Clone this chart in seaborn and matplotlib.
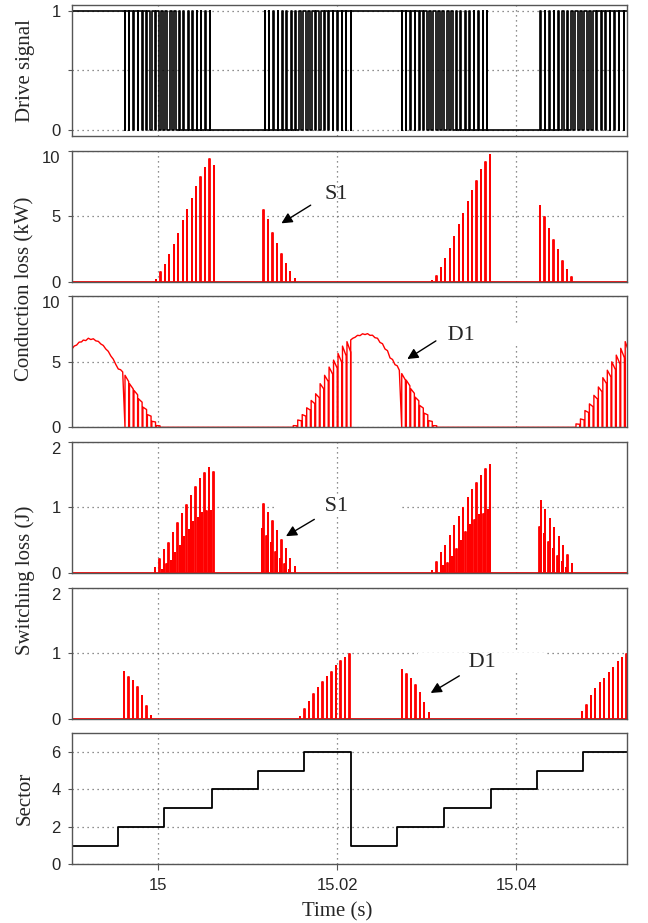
import numpy as np
import pandas as pd
import matplotlib
matplotlib.use('Agg')
import matplotlib.pyplot as plt
import seaborn as sns
from matplotlib import font_manager

# time window and switching period (s)
t_start, t_end = 14.99032, 15.0524
Ts = 0.0005

# ---- drive signal: constant segments and PWM bursts ----
drive_const = [(14.99032, 14.99625, 1), (15.00602, 15.01166, 0),
               (15.02150, 15.02720, 1), (15.03698, 15.04246, 0)]
drive_bursts = [(14.99625, 15.00602), (15.01166, 15.02150),
                (15.02720, 15.03698), (15.04246, 15.0525)]
duty_1 = [0.97, 0.93, 0.88, 0.82, 0.76, 0.69, 0.62, 0.56, 0.51, 0.47,
          0.43, 0.39, 0.34, 0.29, 0.24, 0.19, 0.14, 0.10, 0.06, 0.03]
duty_2 = [0.03, 0.06, 0.10, 0.14, 0.19, 0.24, 0.30, 0.36, 0.42, 0.48,
          0.53, 0.57, 0.62, 0.68, 0.74, 0.80, 0.86, 0.91, 0.95, 0.98]
duty_3 = [0.97, 0.92, 0.87, 0.81, 0.74, 0.67, 0.60, 0.54, 0.50, 0.46,
          0.42, 0.38, 0.33, 0.28, 0.23, 0.18, 0.13, 0.09, 0.05, 0.02]
duty_4 = [0.03, 0.07, 0.11, 0.16, 0.22, 0.28, 0.35, 0.42, 0.48, 0.52,
          0.56, 0.60, 0.65, 0.70, 0.76, 0.82, 0.87, 0.92, 0.95, 0.98]

# ---- conduction loss S1 (kW) ----
s1c_starts = [14.99971, 15.01173, 15.03055, 15.04265]
s1c_1 = [0.13, 0.7, 1.3, 2.0, 2.8, 3.6, 4.6, 5.5, 6.3, 7.2, 8.0, 8.7, 9.4, 8.8]
s1c_2 = [5.5, 4.7, 3.7, 2.9, 2.1, 1.35, 0.7, 0.2]
s1c_3 = [0.05, 0.45, 1.07, 1.7, 2.5, 3.4, 4.3, 5.2, 6.1, 6.9, 7.7, 8.5, 9.1, 9.7]
s1c_4 = [5.8, 4.9, 4.0, 3.2, 2.4, 1.6, 0.87, 0.33]

# ---- conduction loss D1 (kW) ----
d1_env_a_t = [14.99032, 14.99060, 14.99088, 14.99115, 14.99142, 14.99162,
              14.99190, 14.99218, 14.99246, 14.99274, 14.99302, 14.99330,
              14.99358, 14.99385, 14.99413, 14.99441, 14.99469, 14.99497,
              14.99525, 14.99553, 14.99578, 14.99602]
d1_env_a_v = [5.95, 6.20, 6.28, 6.50, 6.52, 6.66, 6.62, 6.80, 6.70, 6.76,
              6.60, 6.56, 6.36, 6.25, 5.98, 5.80, 5.45, 5.20, 4.80, 4.45,
              4.40, 4.23]
d1_env_b_t = [15.02150, 15.02174, 15.02198, 15.02226, 15.02254, 15.02282,
              15.02310, 15.02338, 15.02365, 15.02393, 15.02421, 15.02449,
              15.02477, 15.02505, 15.02533, 15.02561, 15.02589, 15.02617,
              15.02645, 15.02669, 15.02693]
d1_env_b_v = [6.67, 6.80, 6.87, 7.02, 7.00, 7.14, 7.08, 7.15, 7.02, 7.03,
              6.84, 6.80, 6.48, 6.38, 5.98, 5.85, 5.30, 5.18, 4.78, 4.70,
              4.36]
d1_comb_starts = [14.99628, 15.01508, 15.02720, 15.04667]
d1_comb_1 = [3.97, 3.33, 2.82, 2.18, 1.54, 0.97, 0.46, 0.13]
d1_comb_2 = [0.13, 0.56, 0.97, 1.49, 2.05, 2.56, 3.33, 3.97, 4.6, 5.13, 5.64, 6.2, 6.54]
d1_comb_3 = [4.1, 3.6, 2.95, 2.3, 1.67, 1.08, 0.51, 0.13]
d1_comb_4 = [0.26, 0.64, 1.28, 1.79, 2.44, 3.08, 3.79, 4.36, 5.0, 5.51, 6.03, 6.54]

# ---- switching loss S1 (J): main and secondary spikes ----
s1s_starts = [14.99963, 15.01173, 15.03055, 15.04272]
s1s_small_offset = [0.5, -0.3, 0.5, -0.3]
s1s_1 = [0.08, 0.21, 0.35, 0.46, 0.61, 0.77, 0.9, 1.04, 1.18, 1.32, 1.43, 1.53, 1.61, 1.54]
s1s_1b = [0, 0.04, 0.14, 0.19, 0.3, 0.41, 0.55, 0.66, 0.78, 0.84, 0.92, 0.94, 0.95, 0]
s1s_2 = [1.05, 0.92, 0.79, 0.64, 0.5, 0.36, 0.22, 0.09]
s1s_2b = [0.67, 0.56, 0.45, 0.32, 0.22, 0.13, 0.04, 0]
s1s_3 = [0.03, 0.17, 0.3, 0.41, 0.57, 0.72, 0.85, 0.99, 1.14, 1.26, 1.37, 1.48, 1.58, 1.65]
s1s_3b = [0, 0, 0.1, 0.15, 0.24, 0.37, 0.49, 0.62, 0.74, 0.81, 0.88, 0.9, 0.96, 0]
s1s_4 = [1.1, 0.96, 0.83, 0.69, 0.55, 0.41, 0.27, 0.14]
s1s_4b = [0.7, 0.59, 0.48, 0.36, 0.26, 0.17, 0.08, 0]

# ---- switching loss D1 (J) ----
d1s_starts = [14.99617, 15.01583, 15.02720, 15.04731]
d1s_1 = [0.71, 0.64, 0.57, 0.48, 0.34, 0.19, 0.04]
d1s_2 = [0.03, 0.15, 0.25, 0.38, 0.47, 0.56, 0.63, 0.71, 0.8, 0.88, 0.93, 0.99]
d1s_3 = [0.75, 0.68, 0.6, 0.52, 0.39, 0.24, 0.08]
d1s_4 = [0.1, 0.21, 0.35, 0.45, 0.54, 0.61, 0.69, 0.78, 0.86, 0.92, 0.98]

# ---- sector ----
sector_t = [14.9900, 14.99034, 14.99546, 15.00067, 15.00597, 15.01111, 15.01631,
            15.02150, 15.02664, 15.03192, 15.03714, 15.04235, 15.04749, 15.0530]
sector_v = [6, 1, 2, 3, 4, 5, 6, 1, 2, 3, 4, 5, 6, 6]

xticks = [15, 15.02, 15.04]
xtick_labels = ['15', '15.02', '15.04']


def drive_wave():
    pieces = []
    for a, b, lvl in drive_const:
        pieces.append((a, [(a, lvl), (b, lvl)]))
    for (a, b), duty in zip(drive_bursts, [duty_1, duty_2, duty_3, duty_4]):
        p = (b - a) / len(duty)
        pts = []
        for k, d in enumerate(duty):
            s = a + k * p
            c = s + p / 2
            pts += [(s, 0), (c - d * p / 2, 0), (c - d * p / 2, 1),
                    (c + d * p / 2, 1), (c + d * p / 2, 0), (s + p, 0)]
        pieces.append((a, pts))
    pts = [q for _, seg in sorted(pieces, key=lambda x: x[0]) for q in seg]
    return pd.DataFrame(pts, columns=['t', 'v'])


def spike_wave(spikes, width=0.00004):
    t, v = [t_start], [0]
    for ti, hi in sorted(spikes):
        if hi <= 0:
            continue
        t += [ti, ti, ti + width, ti + width]
        v += [0, hi, hi, 0]
    t.append(t_end)
    v.append(0)
    return pd.DataFrame({'t': t, 'v': v})


def cluster(start, heights, offset=0.0):
    return [(start + (k + offset) * Ts, h) for k, h in enumerate(heights)]


def comb(start, heights, frac=0.82, sag=0.88):
    # each tooth: jump up, sag a little while the diode conducts, drop to zero
    t, v = [], []
    for k, h in enumerate(heights):
        s = start + k * Ts
        t += [s, s, s + frac * Ts, s + frac * Ts]
        v += [0, h, h * sag, 0]
    return t, v


def d1_conduction():
    t, v = list(d1_env_a_t), list(d1_env_a_v)
    for part in [comb(d1_comb_starts[0], d1_comb_1),
                 comb(d1_comb_starts[1], d1_comb_2)]:
        t += part[0]
        v += part[1]
    t += d1_env_b_t
    v += d1_env_b_v
    for part in [comb(d1_comb_starts[2], d1_comb_3),
                 comb(d1_comb_starts[3], d1_comb_4)]:
        t += part[0]
        v += part[1]
    t.append(t_end)
    v.append(v[-1])
    return pd.DataFrame({'t': t, 'v': v})


sns.set_style('ticks')
names = {f.name for f in font_manager.fontManager.ttflist}
narrow = 'Liberation Sans Narrow' in names
plt.rcParams['font.family'] = ['Liberation Sans Narrow' if narrow else 'Liberation Sans', 'DejaVu Sans']
tick_size = 14 if narrow else 12
serif = ['Liberation Serif', 'DejaVu Serif']

fig, axes = plt.subplots(6, 1, figsize=(6.48, 9.23), dpi=100, sharex=True)
fig.subplots_adjust(left=0.1106, right=0.968, top=0.9946, bottom=0.0636, hspace=0.112)

red = '#ff0000'
line_kw = dict(sort=False, estimator=None, legend=False)

# drive signal
sns.lineplot(data=drive_wave(), x='t', y='v', ax=axes[0], color='black', lw=1.2, **line_kw)

# conduction loss S1
s1c = []
for st, hs in zip(s1c_starts, [s1c_1, s1c_2, s1c_3, s1c_4]):
    s1c += cluster(st, hs)
sns.lineplot(data=spike_wave(s1c), x='t', y='v', ax=axes[1], color=red, lw=1.3, **line_kw)

# conduction loss D1
sns.lineplot(data=d1_conduction(), x='t', y='v', ax=axes[2], color=red, lw=1.0, **line_kw)

# switching loss S1
s1s = []
for st, off, hs, hb in zip(s1s_starts, s1s_small_offset,
                           [s1s_1, s1s_2, s1s_3, s1s_4],
                           [s1s_1b, s1s_2b, s1s_3b, s1s_4b]):
    s1s += cluster(st, hs) + cluster(st, hb, off)
sns.lineplot(data=spike_wave(s1s), x='t', y='v', ax=axes[3], color=red, lw=1.3, **line_kw)

# switching loss D1
d1s = []
for st, hs in zip(d1s_starts, [d1s_1, d1s_2, d1s_3, d1s_4]):
    d1s += cluster(st, hs)
sns.lineplot(data=spike_wave(d1s), x='t', y='v', ax=axes[4], color=red, lw=1.3, **line_kw)

# sector
sec_df = pd.DataFrame({'t': sector_t, 'v': sector_v})
sns.lineplot(data=sec_df, x='t', y='v', ax=axes[5], color='black', lw=1.3,
             drawstyle='steps-post', **line_kw)

panel_y = [
    ((-0.05, 1.05), [0, 0.5, 1], ['0', '', '1'], False),
    ((0, 10), [0, 5, 10], ['0', '5', '10'], True),
    ((0, 10), [0, 5, 10], ['0', '5', '10'], True),
    ((0, 2), [0, 1, 2], ['0', '1', '2'], True),
    ((0, 2), [0, 1, 2], ['0', '1', '2'], True),
    ((0, 7), [0, 2, 4, 6], ['0', '2', '4', '6'], False),
]

for ax, (lim, ticks, labels, shift) in zip(axes, panel_y):
    ax.set_xlim(t_start, t_end)
    ax.set_ylim(lim)
    ax.set_yticks(ticks)
    labs = ax.set_yticklabels(labels, fontsize=tick_size)
    if shift:
        labs[-1].set_verticalalignment('top')
    ax.set_xticks(xticks)
    ax.grid(True, color='#6a6a6a', ls=(0, (1, 3)), lw=0.9)
    for s in ax.spines.values():
        s.set_visible(True)
        s.set_color('#555555')
        s.set_linewidth(1.0)
    ax.tick_params(axis='y', length=3, width=0.8, color='#555555', pad=5)
    ax.tick_params(axis='x', length=0, labelbottom=False)
    ax.set_xlabel('')
    ax.set_ylabel('')

axes[5].tick_params(axis='x', length=4, width=0.8, color='#555555', pad=6,
                    labelbottom=True, labelsize=tick_size)
axes[5].set_xticklabels(xtick_labels)


# y labels (two of them shared by pairs of panels)
def mid(a, b):
    return (a.get_position().y1 + b.get_position().y0) / 2


lab_kw = dict(rotation=90, ha='center', va='center', fontsize=15, family=serif)
fig.text(0.0386, mid(axes[0], axes[0]), 'Drive signal', **lab_kw)
fig.text(0.0386, mid(axes[1], axes[2]), 'Conduction loss (kW)', **lab_kw)
fig.text(0.0386, mid(axes[3], axes[4]), 'Switching loss (J)', **lab_kw)
fig.text(0.0386, mid(axes[5], axes[5]), 'Sector', **lab_kw)
fig.text(0.52, 0.0122, 'Time (s)', ha='center', va='center', fontsize=15, family=serif)

# annotations
arrow_kw = dict(arrowstyle='-|>', color='black', lw=1.0, mutation_scale=16)
notes = [
    (axes[1], 'S1', (15.01993, 6.63), (15.01729, 5.95), (15.01349, 4.34), False),
    (axes[2], 'D1', (15.03382, 7.02), (15.03128, 6.71), (15.02756, 5.10), True),
    (axes[3], 'S1', (15.01993, 1.02), (15.01770, 0.84), (15.01400, 0.54), True),
    (axes[4], 'D1', (15.03614, 0.85), (15.03390, 0.675), (15.03017, 0.37), True),
]
for ax, txt, pos, tail, head, boxed in notes:
    label = ' ' * 9 + txt + ' ' * 9 if boxed else txt
    ax.text(pos[0], pos[1], label, ha='center', va='center', fontsize=16,
            family=serif, zorder=1,
            bbox=dict(facecolor='white', edgecolor='none', pad=0) if boxed else None)
    ax.annotate('', xy=head, xytext=tail, arrowprops=arrow_kw, zorder=4)

fig.savefig('out.png', dpi=100)
